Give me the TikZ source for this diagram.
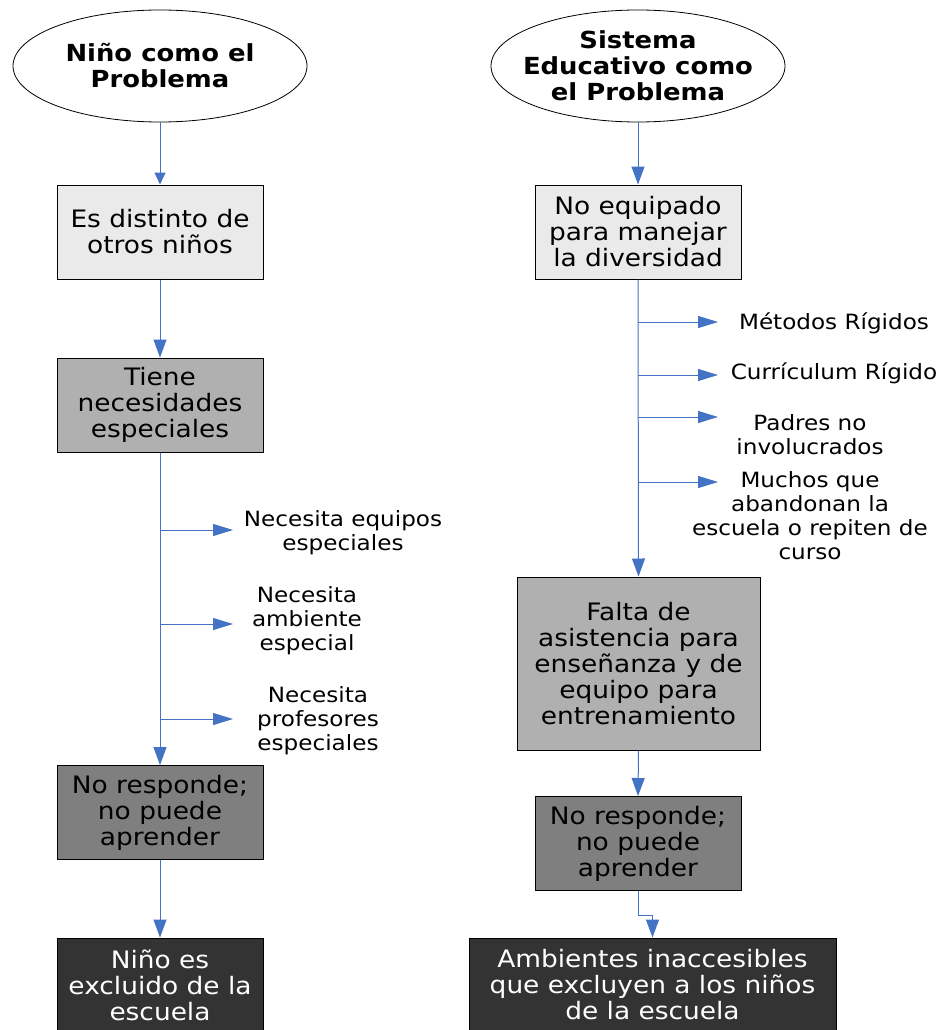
\documentclass[tikz,border=0pt]{standalone}
\usepackage{fontspec}
\setmainfont{DejaVu Sans}[FakeStretch=1.1]
\usetikzlibrary{arrows.meta,shapes.geometric}
\definecolor{arr}{HTML}{4472C4}
\definecolor{fillA}{HTML}{EAEAEA}
\definecolor{fillB}{HTML}{B0B0B0}
\definecolor{fillC}{HTML}{7F7F7F}
\definecolor{fillD}{HTML}{333333}
\begin{document}
\begin{tikzpicture}[x=1pt,y=-1pt,
  oval/.style={ellipse,draw=black,line width=0.8pt,minimum width=294pt,minimum height=112pt,inner sep=0pt},
  title/.style={align=center,inner sep=0pt,font=\fontsize{23.5}{26}\selectfont\bfseries},
  box/.style={rectangle,draw=black,line width=1pt,minimum width=206pt,minimum height=94pt,inner sep=0pt,align=center,font=\fontsize{24}{26}\selectfont},
  lab/.style={align=center,inner sep=0pt,font=\fontsize{21}{24}\selectfont},
  conn/.style={draw=arr,line width=1pt,-{Triangle[length=18pt,width=13pt]}},
  brn/.style={draw=arr,line width=1pt,-{Triangle[length=20pt,width=12pt]}}
]
\useasboundingbox[fill=white] (0,0) rectangle (943,1030);

% left column
\node[oval] (e1) at (160,66) {};
\node[title] (t1) at (e1.center) {Niño como el\\Problema};
\node[box,fill=fillA] (l1) at (160,232) {Es distinto de\\otros niños};
\node[box,fill=fillB] (l2) at (160,405) {Tiene\\necesidades\\especiales};
\node[box,fill=fillC] (l3) at (160,812.5) {No responde;\\no puede\\aprender};
\node[box,fill=fillD,text=white] (l4) at (160,985) {Niño es\\excluido de la\\escuela};

\node[lab] (n1) at (343,533) {Necesita equipos\\especiales};
\node[lab] (n2) at (307,621) {Necesita\\ambiente\\especial};
\node[lab] (n3) at (318,721) {Necesita\\profesores\\especiales};

\draw[conn,-{Triangle[length=12pt,width=11pt]}] (e1.south) -- (l1.north);
\draw[conn] (l1.south) -- (l2.north);
\draw[conn] (l2.south) -- (l3.north);
\draw[conn] (l3.south) -- (l4.north);

\coordinate (a1) at (160,530); \coordinate (a1e) at (233,530);
\coordinate (a2) at (160,624); \coordinate (a2e) at (233,624);
\coordinate (a3) at (160,719); \coordinate (a3e) at (233,719);
\draw[brn] (a1) -- (a1e);
\draw[brn] (a2) -- (a2e);
\draw[brn] (a3) -- (a3e);

% right column
\node[oval] (e2) at (638,66) {};
\node[title] (t2) at (e2.center) {Sistema\\Educativo como\\el Problema};
\node[box,fill=fillA] (r1) at (638,232) {No equipado\\para manejar\\la diversidad};
\node[box,fill=fillB,minimum width=243pt,minimum height=173pt] (r2) at (638.5,663.5) {Falta de\\asistencia para\\enseñanza y de\\equipo para\\entrenamiento};
\node[box,fill=fillC] (r3) at (638,843.5) {No responde;\\no puede\\aprender};
\node[box,fill=fillD,text=white,minimum width=367pt] (r4) at (652.5,985) {Ambientes inaccesibles\\que excluyen a los niños\\de la escuela};

\node[lab] (m1) at (834,323) {Métodos Rígidos};
\node[lab] (m2) at (834,373) {Currículum Rígido};
\node[lab] (m3) at (810,435) {Padres no\\involucrados};
\node[lab] (m4) at (810,516) {Muchos que\\abandonan la\\escuela o repiten de\\curso};

\draw[conn] (e2.south) -- (r1.north);
\draw[conn] (r1.south) -- (r2.north);
\draw[conn] (r2.south) -- (r3.north);
\coordinate (rk) at (638,915);
\draw[conn] (r3.south) -- (rk) -| (r4.north);

\coordinate (b1) at (638,322); \coordinate (b1e) at (718,322);
\coordinate (b2) at (638,375); \coordinate (b2e) at (718,375);
\coordinate (b3) at (638,417); \coordinate (b3e) at (718,417);
\coordinate (b4) at (638,482); \coordinate (b4e) at (718,482);
\draw[brn] (b1) -- (b1e);
\draw[brn] (b2) -- (b2e);
\draw[brn] (b3) -- (b3e);
\draw[brn] (b4) -- (b4e);
\end{tikzpicture}
\end{document}
